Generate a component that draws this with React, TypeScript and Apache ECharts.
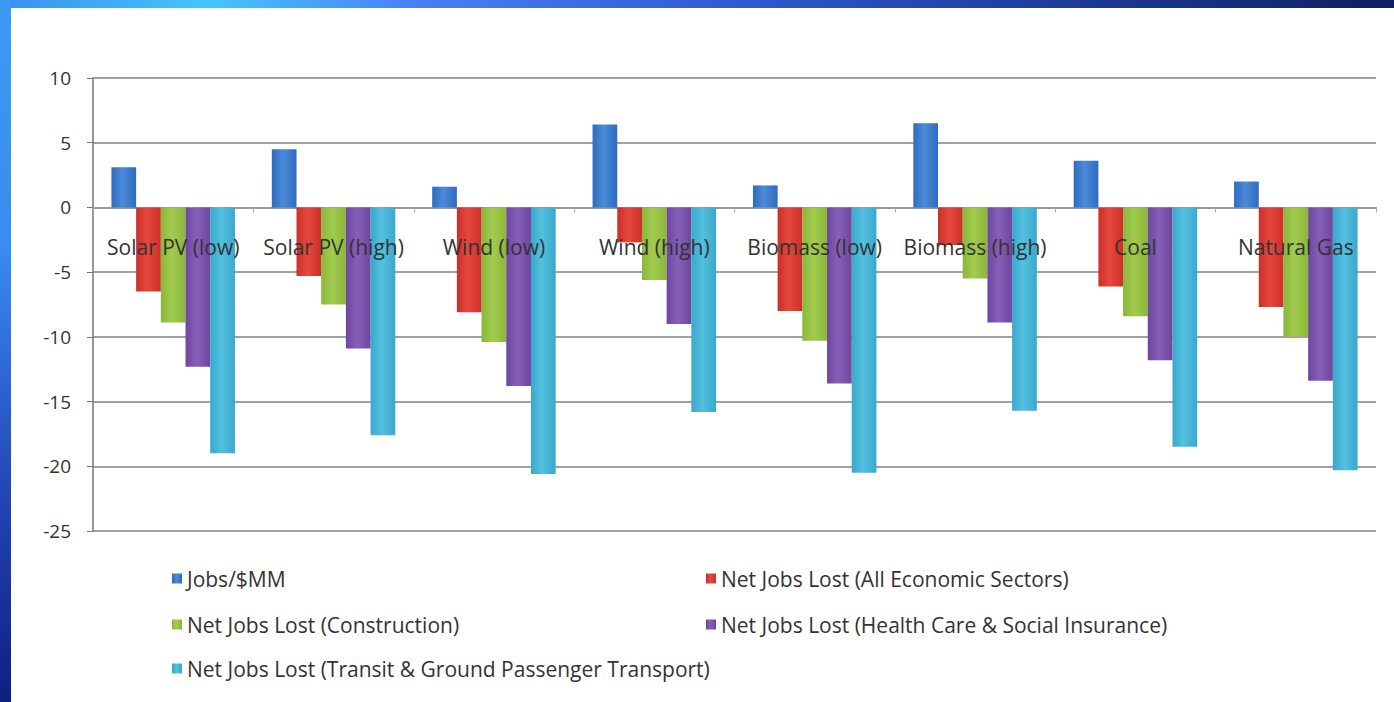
import React, { useEffect, useRef } from "react";
import * as echarts from "echarts";

const categories = [
  "Solar PV (low)",
  "Solar PV (high)",
  "Wind (low)",
  "Wind (high)",
  "Biomass (low)",
  "Biomass (high)",
  "Coal",
  "Natural Gas",
];

const seriesNames = [
  "Jobs/$MM",
  "Net Jobs Lost (All Economic Sectors)",
  "Net Jobs Lost (Construction)",
  "Net Jobs Lost (Health Care & Social Insurance)",
  "Net Jobs Lost (Transit & Ground Passenger Transport)",
];

const jobsPerMM = [3.1, 4.5, 1.6, 6.4, 1.7, 6.5, 3.6, 2.0];
const lostAll = [-6.5, -5.3, -8.1, -2.7, -8.0, -2.9, -6.1, -7.7];
const lostConstruction = [-8.9, -7.5, -10.4, -5.6, -10.3, -5.5, -8.4, -10.0];
const lostHealth = [-12.3, -10.9, -13.8, -9.0, -13.6, -8.9, -11.8, -13.4];
const lostTransit = [-19.0, -17.6, -20.6, -15.8, -20.5, -15.7, -18.5, -20.3];

const yTicks = { min: -25, max: 10, interval: 5 };

const seriesData = [jobsPerMM, lostAll, lostConstruction, lostHealth, lostTransit];
const baseColors = ["#2d6cbf", "#cc2f27", "#8ab63a", "#6e45a0", "#38a8cc"];
const lightColors = ["#4a8ad8", "#e4483e", "#a2cc4e", "#8660b6", "#55c0e0"];

const legendPos = [
  { left: 172, top: 568 },
  { left: 706, top: 568 },
  { left: 172, top: 614 },
  { left: 706, top: 614 },
  { left: 172, top: 658 },
];

function grad(i: number) {
  return new echarts.graphic.LinearGradient(0, 0, 1, 0, [
    { offset: 0, color: baseColors[i] },
    { offset: 0.45, color: lightColors[i] },
    { offset: 1, color: baseColors[i] },
  ]);
}

export default function App() {
  const ref = useRef<HTMLDivElement>(null);
  useEffect(() => {
    if (!ref.current) return;
    const chart = echarts.init(ref.current, null, { renderer: "svg" });
    const font = "'Open Sans', 'Noto Sans', sans-serif";
    chart.setOption({
      animation: false,
      backgroundColor: "#ffffff",
      textStyle: { fontFamily: font },
      graphic: [
        {
          type: "rect",
          shape: { x: 0, y: 0, width: 1394, height: 8 },
          style: {
            fill: new echarts.graphic.LinearGradient(0, 0, 1, 0, [
              { offset: 0, color: "#3a8ff0" },
              { offset: 0.15, color: "#46c6f8" },
              { offset: 0.3, color: "#4a7ef5" },
              { offset: 0.6, color: "#2a4fc0" },
              { offset: 1, color: "#0f1f5e" },
            ]),
          },
          z: 100,
        },
        {
          type: "rect",
          shape: { x: 0, y: 0, width: 11, height: 702 },
          style: {
            fill: new echarts.graphic.LinearGradient(0, 0, 0, 1, [
              { offset: 0, color: "#3a9af2" },
              { offset: 0.35, color: "#3a8cf0" },
              { offset: 0.7, color: "#2246b8" },
              { offset: 1, color: "#0e1f80" },
            ]),
          },
          z: 100,
        },
      ],
      grid: { left: 93, right: 18, top: 78, bottom: 171, containLabel: false },
      legend: seriesNames.map((name, i) => ({
        data: [name],
        left: legendPos[i].left,
        top: legendPos[i].top,
        padding: 0,
        itemWidth: 10,
        itemHeight: 10,
        icon: "rect",
        selectedMode: false,
        textStyle: { fontSize: 21, color: "#333", fontFamily: font },
      })),
      xAxis: [
        {
          type: "category",
          data: categories,
          axisLine: { onZero: true, lineStyle: { color: "#9a9a9a", width: 2 } },
          axisTick: { show: true, length: 5, lineStyle: { color: "#aaa" } },
          axisLabel: { show: false },
          splitLine: { show: false },
        },
        {
          type: "category",
          data: categories,
          position: "bottom",
          offset: -324,
          z: 10,
          axisLine: { show: false, onZero: false },
          axisTick: { show: false },
          axisLabel: { margin: 29, fontSize: 21, color: "#333", interval: 0, fontFamily: font },
          splitLine: { show: false },
        },
      ],
      yAxis: {
        type: "value",
        min: yTicks.min,
        max: yTicks.max,
        interval: yTicks.interval,
        axisLine: { show: true, lineStyle: { color: "#777", width: 1.5 } },
        axisTick: { show: true, length: 6, lineStyle: { color: "#777" } },
        axisLabel: { margin: 22, fontSize: 19, color: "#333", fontFamily: font },
        splitLine: { show: true, lineStyle: { color: "#a0a0a0", width: 2 } },
      },
      series: seriesNames.map((name, i) => ({
        name,
        type: "bar",
        xAxisIndex: 0,
        data: seriesData[i],
        barGap: "0%",
        barCategoryGap: "23%",
        itemStyle: { color: grad(i) },
        z: 2,
      })),
    });
    return () => chart.dispose();
  }, []);
  return (
    <div
      ref={ref}
      style={{ position: "absolute", left: 0, top: 0, width: 1394, height: 702 }}
    />
  );
}
